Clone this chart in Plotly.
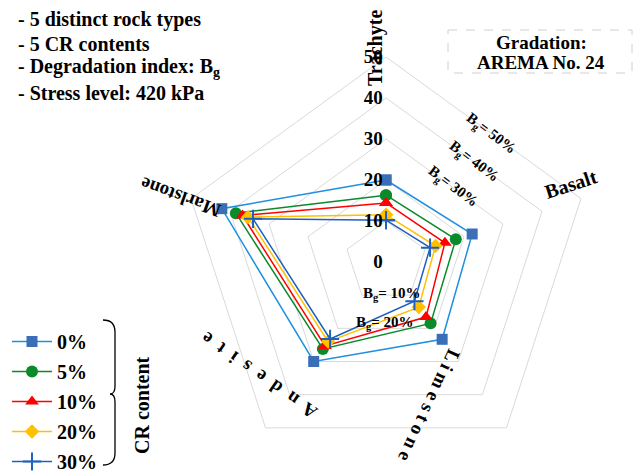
import plotly.graph_objects as go

categories = ["Trachyte", "Basalt", "Limestone", "Andesite", "Marlstone"]
series_names = ["0%", "5%", "10%", "20%", "30%"]
s0 = [20.0, 22.1, 23.3, 30.0, 42.1]
s5 = [16.3, 17.9, 18.5, 26.2, 38.5]
s10 = [14.4, 15.1, 16.6, 25.3, 36.8]
s20 = [11.5, 12.7, 13.6, 24.0, 35.4]
s30 = [10.2, 11.3, 11.8, 23.2, 34.1]
series_values = [s0, s5, s10, s20, s30]
radial_ticks = [0, 10, 20, 30, 40, 50]

line_colors = ["#1f8fe0", "#0a8a2a", "#ff0000", "#ffc000", "#1f5fc0"]
marker_colors = ["#3a6fb8", "#0a8a2a", "#ff0000", "#ffc000", "#1f5fc0"]
symbols = ["square", "circle", "triangle-up", "diamond", "cross-thin"]
sizes = [11, 12, 12, 11, 13]

FONT = "Liberation Serif"
W, H = 639, 473
cx, cy, R = 386, 262, 205

fig = go.Figure()
for name, vals, lc, mc, sym, sz in zip(series_names, series_values, line_colors, marker_colors, symbols, sizes):
    marker = dict(symbol=sym, size=sz, color=mc)
    if sym == "cross-thin":
        marker["line"] = dict(color=mc, width=2)
    fig.add_trace(go.Scatterpolar(
        r=vals + vals[:1], theta=categories + categories[:1],
        mode="lines+markers", name=f"<b>{name}</b>", legendgroup=name,
        line=dict(color=lc, width=1.5), marker=marker,
    ))

fig.update_layout(
    width=W, height=H,
    margin=dict(l=0, r=0, t=0, b=0, autoexpand=False),
    paper_bgcolor="white",
    font=dict(family=FONT, color="black"),
    polar=dict(
        domain=dict(x=[(cx - R) / W, (cx + R) / W], y=[(H - cy - R) / H, (H - cy + R) / H]),
        bgcolor="white",
        gridshape="linear",
        radialaxis=dict(range=[0, 50], tickvals=radial_ticks,
                        ticktext=[f"<b>{t}</b>" for t in radial_ticks],
                        angle=90, tickangle=90, side="counterclockwise",
                        showline=False, ticks="", gridcolor="#d9d9d9", gridwidth=1,
                        tickfont=dict(size=19, family=FONT, color="black")),
        angularaxis=dict(rotation=90, direction="clockwise", showticklabels=False,
                         showline=True, linecolor="#d9d9d9", linewidth=1,
                         showgrid=False, ticks=""),
    ),
    legend=dict(x=7 / W, y=-8 / H, xanchor="left", yanchor="bottom",
                font=dict(size=20, family=FONT, color="black"),
                bgcolor="rgba(0,0,0,0)", tracegroupgap=1, itemwidth=40),
    showlegend=True,
)

def ann(text, x, y, size=17, angle=0, xanchor="center", yanchor="middle", align="center"):
    fig.add_annotation(text=text, x=x / W, y=1 - y / H, xref="paper", yref="paper",
                       showarrow=False, textangle=angle, xanchor=xanchor, yanchor=yanchor,
                       align=align, font=dict(size=size, family=FONT, color="black"))

# Info text top-left
info_lines = ["- 5 distinct rock types", "- 5 CR contents",
              "- Degradation index: B<sub>g</sub>", "- Stress level: 420 kPa"]
for i, t in enumerate(info_lines):
    ann(f"<b>{t}</b>", 16, 19 + 24.5 * i, size=20, xanchor="left")

# Gradation box
fig.add_shape(type="rect", x0=448 / W, x1=632 / W, y0=1 - 30 / H, y1=1 - 73 / H,
              xref="paper", yref="paper", line=dict(color="#d0d0d0", width=1, dash="dash"))
ann("<b>Gradation:</b>", 541, 42, size=19)
ann("<b>AREMA No. 24</b>", 541, 62, size=19)

# Category labels
ann("<b>Trachyte</b>", 375, 48, size=20, angle=-90)
ann("<b>Basalt</b>", 571, 184, size=20, angle=-18)
ann("<b>L i m e s t o n e</b>", 430, 405, size=19, angle=115)
ann("<b>A  n  d  e  s  i  t  e</b>", 259, 376, size=19, angle=-145)
ann("<b>Marlstone</b>", 181, 198, size=19, angle=200)

# Bg labels
ann("<b>B<sub>g</sub>= 50%</b>", 491, 134, size=15, angle=37)
ann("<b>B<sub>g</sub>= 40%</b>", 474, 162, size=15, angle=37)
ann("<b>B<sub>g</sub>= 30%</b>", 453, 187, size=15, angle=37)
ann("<b>B<sub>g</sub>= 10%</b>", 392, 294, size=15)
ann("<b>B<sub>g</sub>= 20%</b>", 385, 323, size=15)

# Bracket for legend (paper coordinates)
def px(x):
    return x / W
def py(y):
    return 1 - y / H
bx0, bx1, ytop, ymid, ybot = 103, 115, 320, 394, 465
path_p = (f"M {px(bx0)},{py(ytop)} Q {px(bx1)},{py(ytop)} {px(bx1)},{py(ytop + 12)} "
          f"L {px(bx1)},{py(ymid - 8)} Q {px(bx1)},{py(ymid)} {px(bx1 - 5)},{py(ymid)} "
          f"Q {px(bx1)},{py(ymid)} {px(bx1)},{py(ymid + 8)} "
          f"L {px(bx1)},{py(ybot - 12)} Q {px(bx1)},{py(ybot)} {px(bx0)},{py(ybot)}")
fig.add_shape(type="path", path=path_p, xref="paper", yref="paper",
              line=dict(color="black", width=1.3))
ann("<b>CR content</b>", 142, 405, size=20, angle=-90)

fig.write_html("out.html", config={"displayModeBar": False},
               post_script="document.body.style.margin='0';")
